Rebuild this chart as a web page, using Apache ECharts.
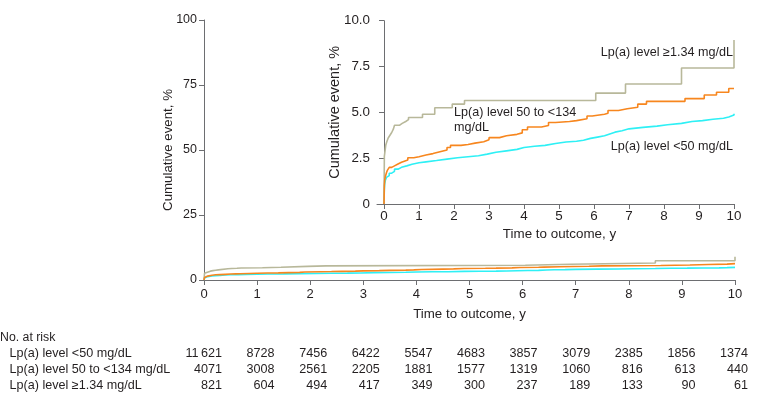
<!DOCTYPE html>
<html><head><meta charset="utf-8">
<script src="https://cdn.jsdelivr.net/npm/echarts@6/dist/echarts.min.js"></script>
<style>html,body{margin:0;padding:0;background:#fff}#c{width:780px;height:406px}</style>
</head><body><div id="c"></div>
<script>
// ---- data ----
const seriesNames = ['Lp(a) level <50 mg/dL', 'Lp(a) level 50 to <134 mg/dL', 'Lp(a) level \u22651.34 mg/dL'];
const lowLp = [[0,0],[0.01,0.8],[0.02,1.1],[0.04,1.3],[0.07,1.45],[0.1,1.55],[0.15,1.68],[0.22,1.78],[0.3,1.9],[0.4,2.0],[0.5,2.08],[0.65,2.17],[0.8,2.25],[1.0,2.3],[1.2,2.37],[1.5,2.45],[1.8,2.52],[2.1,2.58],[2.4,2.63],[2.7,2.72],[2.95,2.82],[3.2,2.9],[3.5,2.98],[3.8,3.08],[4.0,3.15],[4.3,3.2],[4.6,3.3],[4.9,3.38],[5.2,3.42],[5.5,3.48],[5.7,3.58],[5.9,3.65],[6.1,3.72],[6.3,3.82],[6.45,3.92],[6.6,4.0],[6.8,4.1],[7.0,4.18],[7.4,4.25],[7.8,4.32],[8.1,4.4],[8.5,4.5],[8.8,4.55],[9.1,4.62],[9.4,4.68],[9.7,4.75],[9.85,4.85],[10,4.92]];
const midLp = [[0,0],[0.01,1.0],[0.02,1.3],[0.04,1.5],[0.07,1.7],[0.1,1.85],[0.15,2.0],[0.22,2.08],[0.3,2.18],[0.4,2.28],[0.5,2.35],[0.6,2.4],[0.68,2.52],[0.85,2.58],[1.0,2.67],[1.2,2.75],[1.4,2.85],[1.6,2.95],[1.8,3.08],[1.9,3.2],[2.2,3.25],[2.4,3.32],[2.6,3.4],[2.85,3.5],[3.0,3.62],[3.3,3.72],[3.5,3.8],[3.8,3.88],[3.95,4.05],[4.1,4.2],[4.5,4.28],[4.7,4.45],[4.9,4.5],[5.3,4.55],[5.5,4.65],[5.8,4.8],[5.95,4.9],[6.3,4.95],[6.4,5.1],[6.7,5.2],[6.95,5.28],[7.25,5.45],[7.5,5.6],[8.6,5.75],[9.15,5.95],[9.5,6.1],[9.85,6.3],[10,6.3]];
const highLp = [[0,0],[0.01,2.6],[0.03,2.9],[0.05,3.2],[0.08,3.4],[0.12,3.6],[0.17,3.75],[0.22,3.9],[0.27,4.1],[0.3,4.3],[0.45,4.4],[0.52,4.5],[0.62,4.6],[0.7,4.72],[1.1,4.9],[1.45,5.25],[1.95,5.45],[2.3,5.65],[6.05,6.05],[6.9,6.55],[8.5,7.42],[10,8.95]];
const xTicks = [0,1,2,3,4,5,6,7,8,9,10];
const riskLow = ['11\u2009621','8728','7456','6422','5547','4683','3857','3079','2385','1856','1374'];
const riskMid = ['4071','3008','2561','2205','1881','1577','1319','1060','816','613','440'];
const riskHigh = ['821','604','494','417','349','300','237','189','133','90','61'];

// ---- style ----
const FONT = "'Liberation Sans', Arial, sans-serif";
const TXT = '#231f20';
const AX = '#6d6e71';
const colors = ['#2ef0f5', '#f7861e', '#b8b89a'];

const chart = echarts.init(document.getElementById('c'), null, {renderer: 'canvas'});

function axisStyle() {
  return {
    axisLine: {show: true, lineStyle: {color: AX, width: 1}},
    axisTick: {show: true, length: 5, lineStyle: {color: AX, width: 1}},
    splitLine: {show: false},
    nameMoveOverlap: false
  };
}

const data = [lowLp, midLp, highLp];
const series = [];
[0, 1].forEach(gi => {
  data.forEach((d, i) => {
    series.push({
      type: 'line', name: seriesNames[i] + gi, xAxisIndex: gi, yAxisIndex: gi,
      data: d, step: 'end', symbol: 'none', silent: true,
      lineStyle: {color: colors[i], width: 1.6}, z: 3 + (i === 2 ? 0 : i)
    });
  });
});

const graphic = [];
function txt(x, y, s, align, size) {
  graphic.push({type: 'text', x: x, y: y, silent: true,
    style: {text: s, fill: TXT, font: (size || 12.6) + 'px ' + FONT, align: align || 'left', verticalAlign: 'middle'}});
}
// inset annotations
txt(733, 53, seriesNames[2], 'right');
txt(454, 113, 'Lp(a) level 50 to <134', 'left');
txt(454, 128, 'mg/dL', 'left');
txt(733, 147, seriesNames[0], 'right');
// risk table
txt(0, 338, 'No. at risk', 'left', 12.3);
txt(9.5, 354, seriesNames[0]);
txt(9.5, 370, seriesNames[1]);
txt(9.5, 386, seriesNames[2]);
[riskLow, riskMid, riskHigh].forEach((row, r) => {
  row.forEach((v, k) => txt(222 + 52.6 * k, 354 + 16 * r, v, 'right'));
});

chart.setOption({
  animation: false,
  backgroundColor: '#fff',
  textStyle: {fontFamily: FONT},
  grid: [
    {left: 204, right: 45, top: 20, bottom: 126},
    {left: 377, right: 46, top: 20.7, bottom: 202}
  ],
  xAxis: [
    Object.assign(axisStyle(), {
      gridIndex: 0, type: 'value', min: 0, max: 10, interval: 1,
      name: 'Time to outcome, y', nameLocation: 'middle', nameGap: 28,
      nameTextStyle: {fontFamily: FONT, fontSize: 13.3, color: TXT},
      axisLabel: {fontFamily: FONT, fontSize: 13, color: TXT, margin: 8}
    }),
    Object.assign(axisStyle(), {
      gridIndex: 1, type: 'value', min: -0.2, max: 10,
      name: 'Time to outcome, y', nameLocation: 'middle', nameGap: 24,
      nameTextStyle: {fontFamily: FONT, fontSize: 13.4, color: TXT, padding: [0, 0, 0, 8]},
      axisTick: {show: true, length: 5, lineStyle: {color: AX, width: 1}, customValues: xTicks},
      axisLabel: {fontFamily: FONT, fontSize: 13.4, color: TXT, margin: 6, customValues: xTicks}
    })
  ],
  yAxis: [
    Object.assign(axisStyle(), {
      gridIndex: 0, type: 'value', min: 0, max: 100, interval: 25,
      name: 'Cumulative event, %', nameLocation: 'middle', nameGap: 29, nameRotate: 90,
      nameTextStyle: {fontFamily: FONT, fontSize: 13.3, color: TXT},
      axisLabel: {fontFamily: FONT, fontSize: 12.5, color: TXT, margin: 7}
    }),
    Object.assign(axisStyle(), {
      gridIndex: 1, type: 'value', min: 0, max: 10, interval: 2.5,
      name: 'Cumulative event, %', nameLocation: 'middle', nameGap: 35, nameRotate: 90,
      nameTextStyle: {fontFamily: FONT, fontSize: 14.5, color: TXT},
      axisLabel: {fontFamily: FONT, fontSize: 13.4, color: TXT, margin: 7,
        formatter: v => v === 0 ? '0' : v.toFixed(1)}
    })
  ],
  series: series,
  graphic: graphic
});
</script></body></html>
